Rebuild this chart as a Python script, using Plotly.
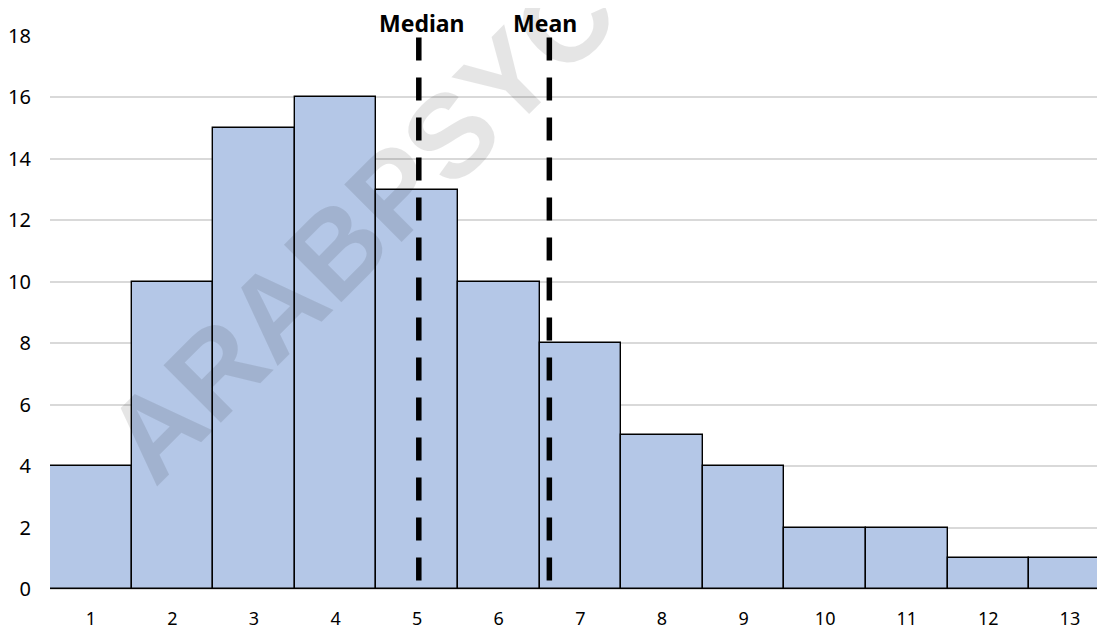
import plotly.graph_objects as go

categories = list(range(1, 14))
counts = [4, 10, 15, 16, 13, 10, 8, 5, 4, 2, 2, 1, 1]
y_ticks = [0, 2, 4, 6, 8, 10, 12, 14, 16, 18]
median_value = 5.02
mean_value = 6.62
watermark = "ARABPSYC"

FONT = "Noto Sans"

fig = go.Figure()
fig.add_trace(go.Bar(
    x=categories, y=counts, width=1.0,
    marker=dict(color="#B4C7E7", line=dict(color="#000000", width=1.4)),
    hoverinfo="x+y", showlegend=False,
))

for val in (median_value, mean_value):
    fig.add_trace(go.Scatter(
        x=[val, val], y=[17.95, 0], mode="lines",
        line=dict(color="#000000", width=5.5, dash="23px,17px"),
        showlegend=False, hoverinfo="skip",
    ))

fig.add_annotation(x=median_value, y=1.0, xref="x", yref="paper",
                   text="<b>Median</b>", showarrow=False,
                   yanchor="middle", yshift=13, xshift=3.5, borderpad=0,
                   font=dict(family=FONT, size=23, color="#000000"))
fig.add_annotation(x=mean_value, y=1.0, xref="x", yref="paper",
                   text="<b>Mean</b>", showarrow=False,
                   yanchor="middle", yshift=13, xshift=-4.5, borderpad=0,
                   font=dict(family=FONT, size=23, color="#000000"))

fig.add_annotation(x=0.2943, y=0.658, xref="paper", yref="paper",
                   text="<b>" + watermark + "</b>", showarrow=False,
                   textangle=-45, xanchor="center", yanchor="middle",
                   font=dict(family="Liberation Sans", size=118,
                             color="rgba(0,0,0,0.10)"))

fig.update_layout(
    width=1097, height=623,
    margin=dict(l=42, r=0, t=28, b=42, autoexpand=False),
    plot_bgcolor="#FFFFFF", paper_bgcolor="#FFFFFF",
    bargap=0,
    font=dict(family=FONT, size=19, color="#000000"),
)
fig.update_xaxes(
    range=[0.5, 13.43], tickmode="array", tickvals=categories,
    ticktext=[str(c) for c in categories],
    showgrid=False, zeroline=False, showline=False,
    ticks="", ticklabelstandoff=17, automargin=False,
    tickfont=dict(family=FONT, size=18, color="#000000"),
)
fig.update_yaxes(
    range=[0, 18], tickmode="array", tickvals=y_ticks,
    showgrid=True, gridcolor="#D9D9D9", gridwidth=1.5,
    zeroline=True, zerolinecolor="#D9D9D9", zerolinewidth=1.5,
    showline=False, ticks="", ticklabelstandoff=18, automargin=False,
    tickfont=dict(family=FONT, size=20, color="#000000"),
)

fig.write_html("out.html")
